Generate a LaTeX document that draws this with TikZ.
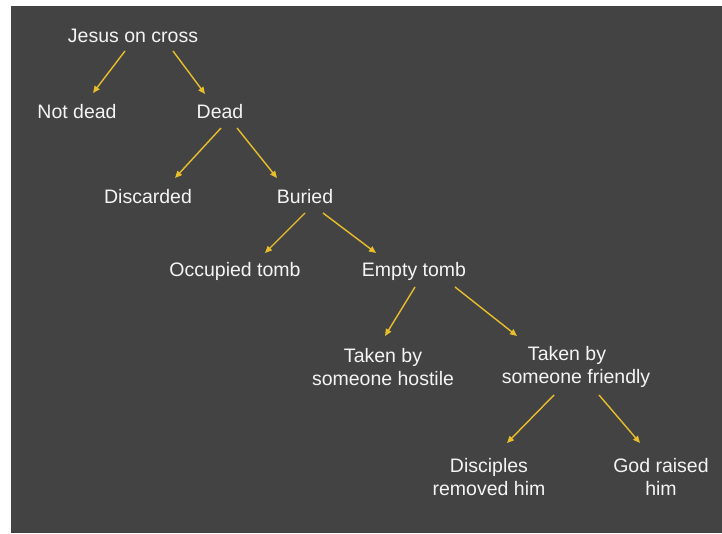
\documentclass[tikz,border=0pt]{standalone}
\usepackage{fontspec}
\setmainfont{Liberation Sans}
\usetikzlibrary{arrows.meta}
\definecolor{bgdark}{HTML}{434343}
\definecolor{arrowyellow}{HTML}{E8BE2A}
\definecolor{txtwhite}{HTML}{F4F4F4}
\begin{document}
\begin{tikzpicture}[x=1pt,y=1pt,
  lbl/.style={text=txtwhite,align=center,inner sep=0pt,font=\fontsize{19.5}{23}\selectfont},
  arr/.style={draw=arrowyellow,line width=1.4pt,-{Triangle[length=7pt,width=6pt]}}]
\useasboundingbox (0,0) rectangle (722,533);
\fill[white] (0,0) rectangle (722,533);
\fill[bgdark] (11,0) rectangle (722,527);
% nodes (image y -> 533 - y)
\node[lbl] (jesus) at (133,497) {Jesus on cross};
\node[lbl] (notdead) at (77,421) {Not dead};
\node[lbl] (dead) at (220,421) {Dead};
\node[lbl] (disc) at (148,336) {Discarded};
\node[lbl] (buried) at (305,336) {Buried};
\node[lbl] (occ) at (235,262) {Occupied tomb};
\node[lbl] (empty) at (414,262) {Empty tomb};
\node[lbl] (hostile) at (383,166) {Taken by\\someone hostile};
\node[lbl] (friendly) at (576,166) {Taken by\hspace*{18pt}\\someone friendly};
\node[lbl] (discip) at (489,56) {Disciples\\removed him};
\node[lbl] (god) at (661,56) {God raised\\him};
% connector endpoints
\coordinate (c1s) at (125,482); \coordinate (c1e) at (93,440);
\coordinate (c2s) at (173,482); \coordinate (c2e) at (205,439);
\coordinate (c3s) at (221,405); \coordinate (c3e) at (175,355);
\coordinate (c4s) at (237,405); \coordinate (c4e) at (277,355);
\coordinate (c5s) at (305,320); \coordinate (c5e) at (265,280);
\coordinate (c6s) at (323,320); \coordinate (c6e) at (376,280);
\coordinate (c7s) at (415,246); \coordinate (c7e) at (385,197);
\coordinate (c8s) at (455,246); \coordinate (c8e) at (517,197);
\coordinate (c9s) at (554,138); \coordinate (c9e) at (507,90);
\coordinate (c10s) at (599,138); \coordinate (c10e) at (640,90);
\draw[arr] (c1s) -- (c1e);
\draw[arr] (c2s) -- (c2e);
\draw[arr] (c3s) -- (c3e);
\draw[arr] (c4s) -- (c4e);
\draw[arr] (c5s) -- (c5e);
\draw[arr] (c6s) -- (c6e);
\draw[arr] (c7s) -- (c7e);
\draw[arr] (c8s) -- (c8e);
\draw[arr] (c9s) -- (c9e);
\draw[arr] (c10s) -- (c10e);
\end{tikzpicture}
\end{document}
